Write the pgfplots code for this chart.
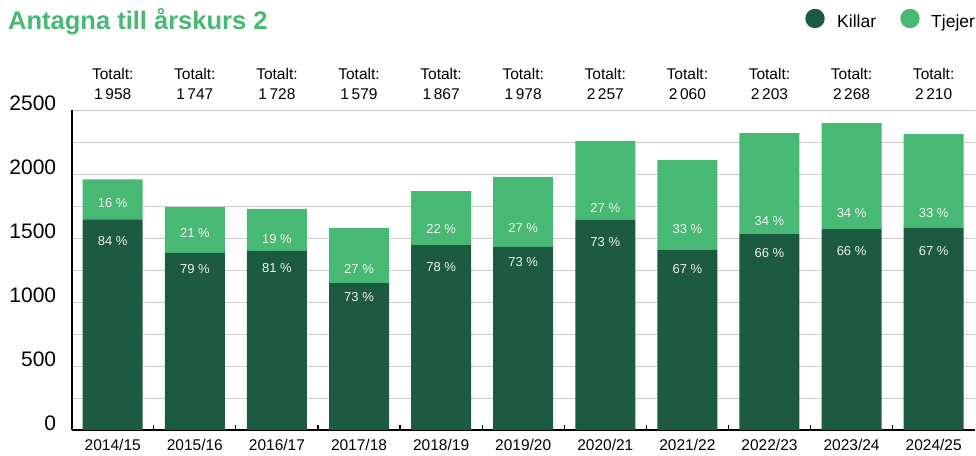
\documentclass[border=0pt]{standalone}
\usepackage{pgfplots}
\pgfplotsset{compat=1.18}
\usepackage{pgfplotstable}
\usepackage{fontspec}
\setmainfont{Liberation Sans}
\definecolor{dgreen}{HTML}{1C5A42}
\definecolor{lgreen}{HTML}{48B974}
\pgfplotstableread{
x k t
0 1645 313
1 1383 359
2 1398 330
3 1148 431
4 1445 422
5 1430 547
6 1640 618
7 1406 703
8 1531 789
9 1570 828
10 1578 734
}\data
\begin{document}
\begin{tikzpicture}[x=1pt,y=1pt,
  pct/.style={font=\fontsize{13}{14}\selectfont, text=white!94!black, anchor=center, inner sep=0pt},
  tot/.style={font=\fontsize{15.5}{17}\selectfont, text=black, anchor=center, inner sep=0pt}]
\useasboundingbox (0,0) rectangle (976,455);
% title
\node[anchor=base west, inner sep=0pt, text=lgreen, font=\fontsize{25.5}{28}\selectfont\bfseries] at (8,425) {Antagna till årskurs 2};
% legend
\fill[dgreen] (815,436.5) circle (9.7);
\node[anchor=base west, inner sep=0pt, font=\fontsize{17.5}{20}\selectfont] at (837,427) {Killar};
\fill[lgreen] (910,436.5) circle (9.7);
\node[anchor=base west, inner sep=0pt, font=\fontsize{17.5}{20}\selectfont] at (931,427) {Tjejer};
\begin{axis}[
  at={(71.7pt,25pt)}, anchor=south west,
  scale only axis, width=903pt, height=320pt,
  ybar stacked, bar width=60pt,
  xmin=-0.5, xmax=10.5, ymin=0, ymax=2500,
  clip=false,
  axis x line=bottom, axis y line=left,
  axis line style={-, line width=1.6pt, black},
  xtick={0,...,10},
  xticklabels={2014/15,2015/16,2016/17,2017/18,2018/19,2019/20,2020/21,2021/22,2022/23,2023/24,2024/25},
  major x tick style={draw=none},
  minor xtick={0.5,1.5,...,9.5},
  minor x tick style={black, line width=1.2pt},
  minor tick length=5pt,
  tick align=inside,
  xticklabel style={font=\fontsize{15.5}{17}\selectfont, anchor=base, inner sep=0pt, yshift=-20pt},
  ytick={0,250,...,2500},
  yticklabels={0,{},500,{},1000,{},1500,{},2000,{},2500},
  y tick style={draw=none},
  yticklabel style={font=\fontsize{21}{23}\selectfont, xshift=-12pt, yshift=7pt},
  ymajorgrids=true,
  major grid style={gray!40, line width=0.9pt},
]
\addplot[fill=dgreen, draw=none] table[x=x,y=k]{\data};
\addplot[fill=lgreen, draw=none] table[x=x,y=t]{\data};
% anchor points for percent labels
\coordinate (l0) at (axis cs:0,1773);  \coordinate (d0) at (axis cs:0,1477);
\coordinate (l1) at (axis cs:1,1539);  \coordinate (d1) at (axis cs:1,1258);
\coordinate (l2) at (axis cs:2,1492);  \coordinate (d2) at (axis cs:2,1266);
\coordinate (l3) at (axis cs:3,1258);  \coordinate (d3) at (axis cs:3,1039);
\coordinate (l4) at (axis cs:4,1570);  \coordinate (d4) at (axis cs:4,1273);
\coordinate (l5) at (axis cs:5,1581);  \coordinate (d5) at (axis cs:5,1315);
\coordinate (l6) at (axis cs:6,1734);  \coordinate (d6) at (axis cs:6,1469);
\coordinate (l7) at (axis cs:7,1568);  \coordinate (d7) at (axis cs:7,1258);
\coordinate (l8) at (axis cs:8,1635);  \coordinate (d8) at (axis cs:8,1385);
\coordinate (l9) at (axis cs:9,1698);  \coordinate (d9) at (axis cs:9,1401);
\coordinate (l10) at (axis cs:10,1698); \coordinate (d10) at (axis cs:10,1401);
% totals
\node[tot] at (axis cs:0,2783) {Totalt:};  \node[tot] at (axis cs:0,2625) {1\,958};
\node[tot] at (axis cs:1,2783) {Totalt:};  \node[tot] at (axis cs:1,2625) {1\,747};
\node[tot] at (axis cs:2,2783) {Totalt:};  \node[tot] at (axis cs:2,2625) {1\,728};
\node[tot] at (axis cs:3,2783) {Totalt:};  \node[tot] at (axis cs:3,2625) {1\,579};
\node[tot] at (axis cs:4,2783) {Totalt:};  \node[tot] at (axis cs:4,2625) {1\,867};
\node[tot] at (axis cs:5,2783) {Totalt:};  \node[tot] at (axis cs:5,2625) {1\,978};
\node[tot] at (axis cs:6,2783) {Totalt:};  \node[tot] at (axis cs:6,2625) {2\,257};
\node[tot] at (axis cs:7,2783) {Totalt:};  \node[tot] at (axis cs:7,2625) {2\,060};
\node[tot] at (axis cs:8,2783) {Totalt:};  \node[tot] at (axis cs:8,2625) {2\,203};
\node[tot] at (axis cs:9,2783) {Totalt:};  \node[tot] at (axis cs:9,2625) {2\,268};
\node[tot] at (axis cs:10,2783) {Totalt:}; \node[tot] at (axis cs:10,2625) {2\,210};
\end{axis}
\node[pct] at (l0) {16 \%};  \node[pct] at (d0) {84 \%};
\node[pct] at (l1) {21 \%};  \node[pct] at (d1) {79 \%};
\node[pct] at (l2) {19 \%};  \node[pct] at (d2) {81 \%};
\node[pct] at (l3) {27 \%};  \node[pct] at (d3) {73 \%};
\node[pct] at (l4) {22 \%};  \node[pct] at (d4) {78 \%};
\node[pct] at (l5) {27 \%};  \node[pct] at (d5) {73 \%};
\node[pct] at (l6) {27 \%};  \node[pct] at (d6) {73 \%};
\node[pct] at (l7) {33 \%};  \node[pct] at (d7) {67 \%};
\node[pct] at (l8) {34 \%};  \node[pct] at (d8) {66 \%};
\node[pct] at (l9) {34 \%};  \node[pct] at (d9) {66 \%};
\node[pct] at (l10) {33 \%}; \node[pct] at (d10) {67 \%};
\end{tikzpicture}
\end{document}
